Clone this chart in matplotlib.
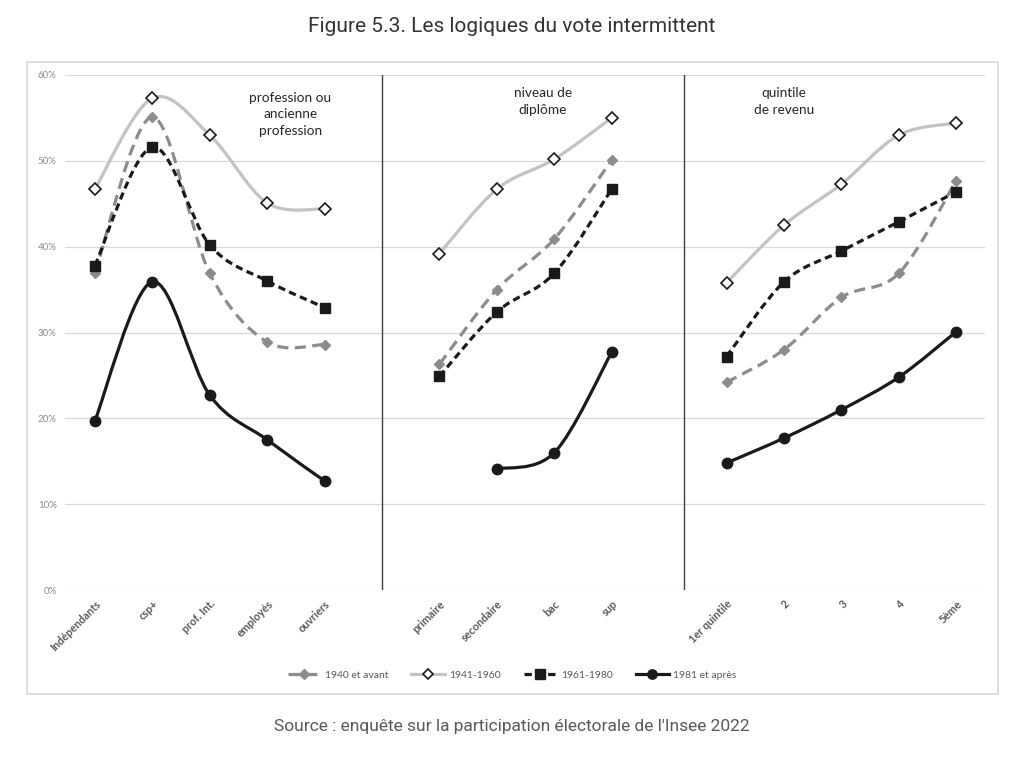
import numpy as np
import matplotlib.pyplot as plt
from matplotlib.path import Path
from matplotlib.patches import PathPatch, Rectangle
from matplotlib.lines import Line2D

plt.rcParams['font.family'] = ['Lato', 'DejaVu Sans']

# categories per panel
prof_cats = ['Indépendants', 'csp+', 'prof. Int.', 'employés', 'ouvriers']
dipl_cats = ['primaire', 'secondaire', 'bac', 'sup']
rev_cats = ['1er quintile', '2', '3', '4', '5ème']

series_names = ['1940 et avant', '1941-1960', '1961-1980', '1981 et après']

# profession ou ancienne profession (%)
prof_1940 = [36.9, 55.1, 36.9, 28.9, 28.6]
prof_1941 = [46.7, 57.3, 53.0, 45.1, 44.4]
prof_1961 = [37.8, 51.6, 40.2, 36.0, 32.9]
prof_1981 = [19.7, 35.9, 22.7, 17.5, 12.7]

# niveau de diplome (%)
dipl_1940 = [26.3, 35.0, 40.9, 50.1]
dipl_1941 = [39.2, 46.7, 50.2, 55.0]
dipl_1961 = [24.9, 32.4, 36.9, 46.7]
dipl_1981 = [None, 14.1, 16.0, 27.7]

# quintile de revenu (%)
rev_1940 = [24.2, 28.0, 34.1, 36.9, 47.7]
rev_1941 = [35.8, 42.5, 47.3, 53.0, 54.4]
rev_1961 = [27.2, 35.9, 39.5, 42.9, 46.4]
rev_1981 = [14.8, 17.7, 21.0, 24.8, 30.1]

# position of each panel on the x axis
prof_x = [0, 1, 2, 3, 4]
dipl_x = [6, 7, 8, 9]
rev_x = [11, 12, 13, 14, 15]
separators = [5.0, 10.25]

styles = {
    '1940 et avant': dict(color='#8c8c8c', lw=2.3, ls=(0, (3.5, 2)), marker='D', ms=5.5,
                          mfc='#8c8c8c', mec='#8c8c8c', mew=1),
    '1941-1960': dict(color='#c3c3c3', lw=2.3, ls='-', marker='D', ms=5.8,
                      mfc='white', mec='#1a1a1a', mew=1.2),
    '1961-1980': dict(color='#1a1a1a', lw=2.3, ls=(0, (2.3, 1.4)), marker='s', ms=7.5,
                      mfc='#1a1a1a', mec='#1a1a1a', mew=1),
    '1981 et après': dict(color='#1a1a1a', lw=2.3, ls='-', marker='o', ms=7.5,
                          mfc='#1a1a1a', mec='#1a1a1a', mew=1),
}


def smooth_path(xs, ys):
    # bezier through the points, like the smoothed lines of a spreadsheet
    pts = [np.array([x, y], float) for x, y in zip(xs, ys) if y is not None]
    n = len(pts)
    verts = [pts[0]]
    codes = [Path.MOVETO]
    for i in range(n - 1):
        p0 = pts[max(i - 1, 0)]
        p1 = pts[i]
        p2 = pts[i + 1]
        p3 = pts[min(i + 2, n - 1)]
        c1 = p1 + (p2 - p0) / 6
        c2 = p2 - (p3 - p1) / 6
        verts += [c1, c2, p2]
        codes += [Path.CURVE4] * 3
    return Path(verts, codes)


fig = plt.figure(figsize=(10.24, 7.69), dpi=100)
ax = fig.add_axes([65 / 1024, 1 - 590 / 769, 920 / 1024, 515 / 769])

panels = [
    (prof_x, [prof_1940, prof_1941, prof_1961, prof_1981]),
    (dipl_x, [dipl_1940, dipl_1941, dipl_1961, dipl_1981]),
    (rev_x, [rev_1940, rev_1941, rev_1961, rev_1981]),
]

for xs, vals in panels:
    for name, ys in zip(series_names, vals):
        st = styles[name]
        ax.add_patch(PathPatch(smooth_path(xs, ys), fill=False, edgecolor=st['color'],
                               lw=st['lw'], ls=st['ls'], capstyle='butt', zorder=2))
        px = [x for x, y in zip(xs, ys) if y is not None]
        py = [y for y in ys if y is not None]
        ax.plot(px, py, ls='none', marker=st['marker'], ms=st['ms'], mfc=st['mfc'],
                mec=st['mec'], mew=st['mew'], zorder=3)

for s in separators:
    ax.axvline(s, color='#404040', lw=1, zorder=1)

ax.set_xlim(-0.52, 15.5)
ax.set_ylim(0, 60)
ax.set_yticks(range(0, 61, 10))
ax.set_yticklabels([f'{v}%' for v in range(0, 61, 10)], fontsize=7, color='#8c8c8c')
ax.set_xticks(prof_x + dipl_x + rev_x)
ax.set_xticklabels(prof_cats + dipl_cats + rev_cats, rotation=45, ha='right',
                   rotation_mode='anchor', fontsize=7.8, color='#595959', fontweight='bold')
ax.tick_params(length=0, pad=6)
ax.grid(axis='y', color='#d9d9d9', lw=0.9)
ax.set_axisbelow(True)
for sp in ax.spines.values():
    sp.set_visible(False)

ax.text(3.4, 55.4, 'profession ou\nancienne\nprofession', ha='center', va='center',
        fontsize=9.8, color='#262626', linespacing=1.45)
ax.text(7.8, 56.9, 'niveau de\ndiplôme', ha='center', va='center',
        fontsize=9.8, color='#262626', linespacing=1.45)
ax.text(12.0, 56.9, 'quintile\nde revenu', ha='center', va='center',
        fontsize=9.8, color='#262626', linespacing=1.45)

handles = []
for name in series_names:
    st = styles[name]
    handles.append(Line2D([], [], color=st['color'], lw=st['lw'], ls=st['ls'],
                          marker=st['marker'], ms=st['ms'] * 0.9, mfc=st['mfc'],
                          mec=st['mec'], mew=st['mew']))
fig.legend(handles, series_names, loc='center', bbox_to_anchor=(0.5, 1 - 675 / 769),
           ncol=4, frameon=False, fontsize=7.5, labelcolor='#595959', handlelength=3.2,
           columnspacing=2.2, handletextpad=0.4)

fig.patches.append(Rectangle((27 / 1024, 1 - 694 / 769), 971 / 1024, 632 / 769,
                             transform=fig.transFigure, fill=False,
                             edgecolor='#d9d9d9', lw=1.2))

fig.text(0.5, 1 - 27 / 769, 'Figure 5.3. Les logiques du vote intermittent', ha='center',
         va='center', fontsize=15, color='#333333', family=['Roboto', 'DejaVu Sans'])
fig.text(0.5, 1 - 727 / 769, "Source : enquête sur la participation électorale de l'Insee 2022",
         ha='center', va='center', fontsize=12.5, color='#595959',
         family=['Roboto', 'DejaVu Sans'])

fig.savefig('out.png', dpi=100)
